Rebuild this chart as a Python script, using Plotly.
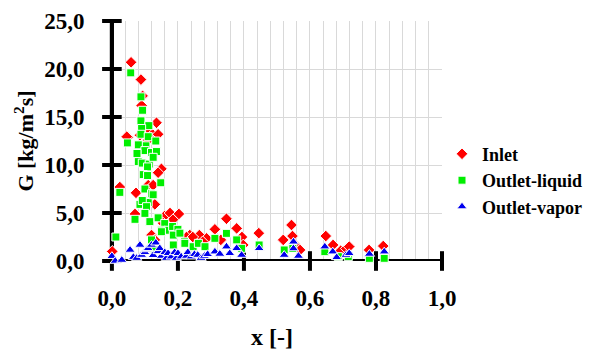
import plotly.graph_objects as go

inlet_x = [0.058, 0.088, 0.093, 0.090, 0.135, 0.048, 0.120, 0.140, 0.100, 0.110, 0.085, 0.045,
           0.150, 0.140, 0.110, 0.125, 0.024, 0.073, 0.130, 0.070, 0.160, 0.176, 0.203, 0.185,
           0.155, 0.120, 0.130, 0.001, 0.236, 0.265, 0.287, 0.226, 0.245, 0.275, 0.312, 0.347,
           0.330, 0.378, 0.394, 0.398, 0.445, 0.519, 0.544, 0.547, 0.555, 0.570, 0.648, 0.670,
           0.693, 0.710, 0.719, 0.779, 0.822]
inlet_g = [20.7, 18.9, 17.2, 16.2, 14.4, 12.9, 13.3, 13.2, 13.6, 12.6, 13.1, 12.95,
           9.6, 9.2, 7.9, 7.9, 7.7, 7.1, 5.9, 4.9, 4.7, 5.0, 4.9, 4.3,
           3.95, 2.7, 2.2, 1.0, 2.7, 2.7, 2.36, 2.5, 2.5, 2.0, 3.3, 4.4,
           2.2, 3.4, 2.5, 1.67, 2.9, 2.2, 3.75, 2.6, 1.7, 1.15, 2.6, 1.67,
           1.07, 1.3, 1.5, 1.15, 1.56]

liquid_x = [0.057, 0.088, 0.093, 0.088, 0.112, 0.090, 0.088, 0.047, 0.110, 0.133, 0.103, 0.080,
            0.100, 0.120, 0.076, 0.135, 0.080, 0.092, 0.113, 0.108, 0.125, 0.095, 0.108, 0.148,
            0.024, 0.100, 0.120, 0.085, 0.110, 0.092, 0.105, 0.125, 0.100, 0.070, 0.115, 0.140,
            0.160, 0.150, 0.170, 0.184, 0.200, 0.186, 0.220, 0.012, 0.120, 0.130, 0.150, 0.186,
            0.206, 0.221, 0.246, 0.262, 0.282, 0.312, 0.347, 0.378, 0.393, 0.446, 0.522, 0.548,
            0.645, 0.686, 0.716, 0.780, 0.825]
liquid_g = [19.6, 17.1, 15.7, 14.6, 14.1, 13.8, 13.2, 12.3, 12.95, 12.5, 12.0, 12.1,
            11.5, 11.3, 11.2, 11.4, 10.35, 10.2, 10.1, 9.8, 10.8, 9.0, 8.9, 8.15,
            7.15, 7.5, 7.0, 5.9, 6.1, 6.3, 5.66, 6.9, 4.96, 4.34, 4.1, 4.5,
            3.9, 3.2, 3.2, 3.6, 3.3, 2.7, 2.0, 2.5, 2.2, 1.2, 3.05, 1.67,
            2.9, 1.84, 1.49, 1.84, 1.49, 2.36, 2.88, 2.2, 1.32, 1.67, 1.15, 1.3,
            0.97, 0.45, 0.45, 0.28, 0.28]

vapor_x = [0.000, 0.010, 0.030, 0.055, 0.065, 0.075, 0.085, 0.090, 0.100, 0.105, 0.110, 0.120,
           0.125, 0.133, 0.140, 0.145, 0.150, 0.160, 0.165, 0.170, 0.180, 0.190, 0.195, 0.200,
           0.210, 0.226, 0.230, 0.240, 0.250, 0.260, 0.270, 0.280, 0.290, 0.312, 0.327, 0.347,
           0.357, 0.378, 0.393, 0.446, 0.522, 0.550, 0.550, 0.565, 0.645, 0.669, 0.681, 0.709,
           0.719, 0.780, 0.825]
vapor_g = [0.5, 0.0, 0.1, 1.15, 0.4, 0.3, 1.67, 0.62, 0.9, 1.2, 1.32, 1.67,
           0.6, 1.9, 1.0, 1.32, 0.52, 0.9, 0.3, 0.8, 0.45, 0.9, 0.3, 0.8,
           0.45, 0.52, 0.9, 0.45, 0.7, 0.62, 0.3, 0.52, 0.7, 0.97, 0.73, 1.49,
           0.8, 1.32, 0.62, 1.32, 0.62, 2.0, 1.3, 0.52, 1.49, 0.97, 0.38, 0.62,
           0.8, 0.73, 0.97]

x_ticks = [0.0, 0.2, 0.4, 0.6, 0.8, 1.0]
y_ticks = [0, 5, 10, 15, 20, 25]

FONT = "Liberation Serif"
X_MIN, X_MAX = x_ticks[0], x_ticks[-1]
Y_MIN, Y_MAX = y_ticks[0], y_ticks[-1]
X_PAD = 0.03   # small extra room left of x = 0 so the y-axis line sits inside the plot area

fig = go.Figure()

# thick black axes (drawn as traces beneath the data markers)
fig.add_trace(go.Scatter(x=[X_MIN, X_MAX, None, X_MIN, X_MIN],
                         y=[Y_MIN, Y_MIN, None, Y_MIN, Y_MAX],
                         mode="lines", line=dict(color="black", width=4),
                         showlegend=False, hoverinfo="skip", cliponaxis=False))
# cross-shaped tick marks
fig.add_trace(go.Scatter(x=x_ticks, y=[Y_MIN] * len(x_ticks), mode="markers",
                         marker=dict(symbol="line-ns", size=14, line=dict(color="black", width=4)),
                         showlegend=False, hoverinfo="skip", cliponaxis=False))
fig.add_trace(go.Scatter(x=[X_MIN] * len(y_ticks), y=y_ticks, mode="markers",
                         marker=dict(symbol="line-ew", size=14, line=dict(color="black", width=4)),
                         showlegend=False, hoverinfo="skip", cliponaxis=False))

fig.add_trace(go.Scatter(x=inlet_x, y=inlet_g, mode="markers", name="Inlet", cliponaxis=False,
                         marker=dict(symbol="diamond", size=9, color="#ff0000",
                                     line=dict(color="white", width=1))))
fig.add_trace(go.Scatter(x=liquid_x, y=liquid_g, mode="markers", name="Outlet-liquid", cliponaxis=False,
                         marker=dict(symbol="square", size=8, color="#00ee00",
                                     line=dict(color="white", width=1))))
fig.add_trace(go.Scatter(x=vapor_x, y=vapor_g, mode="markers", name="Outlet-vapor", cliponaxis=False,
                         marker=dict(symbol="triangle-up", size=9, color="#0000ee",
                                     line=dict(color="white", width=1))))

# backup drawing of the vertical axis line
fig.add_shape(type="line", xref="x", yref="y", x0=X_MIN, x1=X_MIN, y0=Y_MIN, y1=Y_MAX,
              line=dict(color="black", width=4), layer="between")

tickfont = dict(family=FONT, size=23, color="black", weight="bold")
fig.update_layout(
    width=592, height=350,
    margin=dict(l=102, r=150, t=21, b=89, autoexpand=False),
    paper_bgcolor="white", plot_bgcolor="white",
    separators=",.",
    font=dict(family=FONT, color="black"),
    xaxis=dict(range=[X_MIN - X_PAD, X_MAX], tickvals=x_ticks, tickformat=".1f", ticks="",
               showline=False, showgrid=True, gridcolor="#d9d9d9", gridwidth=1,
               zeroline=False, tickfont=tickfont, automargin=False, ticklabelstandoff=21,
               minor=dict(tick0=0, dtick=0.04, showgrid=True, gridcolor="#d9d9d9", gridwidth=1),
               title=dict(text="x [-]", font=dict(family=FONT, size=24, weight="bold"),
                          standoff=20)),
    yaxis=dict(range=[Y_MIN, Y_MAX], tickvals=y_ticks, tickformat=".1f", ticks="outside",
               ticklen=10, tickcolor="rgba(0,0,0,0)",
               showline=False, showgrid=True, gridcolor="#d9d9d9", gridwidth=1,
               zeroline=False, tickfont=tickfont, automargin=False, ticklabelstandoff=2,
               title=dict(text="G [kg/m<sup>2</sup>s]", font=dict(family=FONT, size=22, weight="bold"),
                          standoff=4)),
    legend=dict(x=1.0, y=0.335, xanchor="left", yanchor="middle", itemwidth=30,
                font=dict(family=FONT, size=18, color="black", weight="bold"),
                bgcolor="rgba(0,0,0,0)"),
    showlegend=True,
)

fig.write_html("out.html", config={"displayModeBar": False, "staticPlot": True},
               post_script="document.body.style.margin='0';")
